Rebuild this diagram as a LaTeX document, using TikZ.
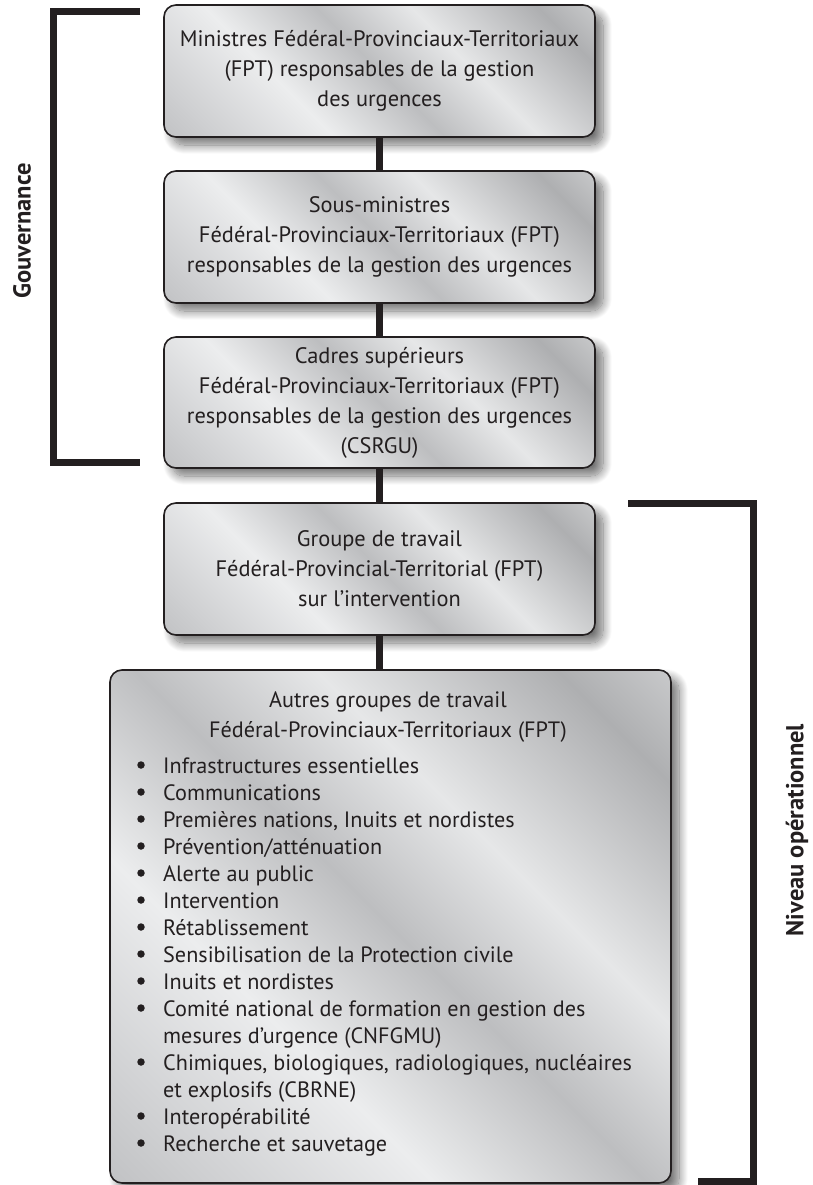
\documentclass[tikz,border=0pt]{standalone}
\usepackage{fontspec}
\setmainfont{PT Sans}
\usetikzlibrary{shadows.blur}
\definecolor{ink}{HTML}{231F20}
\definecolor{mA}{HTML}{A4A5A7}
\definecolor{mB}{HTML}{D0D1D3}
\definecolor{mC}{HTML}{ECEDEE}
\definecolor{mD}{HTML}{BDBEC0}
\definecolor{mE}{HTML}{E6E7E8}
\definecolor{mF}{HTML}{AEAFB1}
\definecolor{mG}{HTML}{D8D9DA}
\pgfdeclarehorizontalshading{metal}{100bp}{color(0bp)=(mA); color(22bp)=(mB); color(36bp)=(mC); color(50bp)=(mD); color(62bp)=(mE); color(78bp)=(mF); color(90bp)=(mG); color(100bp)=(mA)}
\tikzset{
  box/.style={draw=ink, line width=1.6pt, rounded corners=12pt, shading=metal, shading angle=45,
    blur shadow={shadow xshift=8pt, shadow yshift=-8pt, shadow blur radius=9pt, shadow blur steps=14, shadow opacity=55},
    align=center, inner sep=0pt, text=ink, font=\fontsize{22.4}{30}\selectfont},
  link/.style={draw=ink, line width=7pt},
  bracket/.style={draw=ink, line width=7pt},
  side/.style={text=ink, font=\bfseries\fontsize{24.5}{28}\selectfont, rotate=90},
  itm/.style={anchor=base west, inner sep=0pt, text=ink, font=\fontsize{22.2}{27}\selectfont},
  dotmark/.style={circle, fill=ink, inner sep=0pt, minimum size=7.5pt},
}
\begin{document}
\begin{tikzpicture}[x=1pt,y=-1pt]
\useasboundingbox (0,0) rectangle (813,1185);
% brackets
\coordinate (g1) at (140,12);
\coordinate (g2) at (53,12);
\coordinate (g3) at (53,462);
\coordinate (g4) at (140,462);
\draw[bracket] (g1) -- (g2) -- (g3) -- (g4);
\coordinate (n1) at (628,503);
\coordinate (n2) at (753,503);
\coordinate (n3) at (753,1181);
\coordinate (n4) at (698,1181);
\draw[bracket] (n1) -- (n2) -- (n3) -- (n4);
\node[side] (gov) at (22,231) {Gouvernance};
\node[side] (niv) at (797,830) {Niveau opérationnel};
% boxes
\node[box, minimum width=431pt, minimum height=132pt] (b1) at (379.5,71)
  {Ministres Fédéral-Provinciaux-Territoriaux\\(FPT) responsables de la gestion\\des urgences};
\node[box, minimum width=431pt, minimum height=132pt] (b2) at (379.5,237)
  {Sous-ministres\\Fédéral-Provinciaux-Territoriaux (FPT)\\responsables de la gestion des urgences};
\node[box, minimum width=431pt, minimum height=131pt] (b3) at (379.5,402.5)
  {Cadres supérieurs\\Fédéral-Provinciaux-Territoriaux (FPT)\\responsables de la gestion des urgences\\(CSRGU)};
\node[box, minimum width=431pt, minimum height=132pt] (b4) at (379.5,569)
  {Groupe de travail\\Fédéral-Provincial-Territorial (FPT)\\sur l’intervention};
\node[box, minimum width=561pt, minimum height=513pt] (b5) at (390.5,926.5) {};
% connectors
\draw[link] (b1.south) -- (b2.north);
\draw[link] (b2.south) -- (b3.north);
\draw[link] (b3.south) -- (b4.north);
\draw[link] (b4.south) -- (b4.south |- b5.north);
% box 5 content
\node[itm, anchor=base] (h1) at (388,707) {Autres groupes de travail};
\node[itm, anchor=base] (h2) at (388,737) {Fédéral-Provinciaux-Territoriaux (FPT)};
\foreach \t/\b [count=\i from 0] in {
  {Infrastructures essentielles}/1,
  {Communications}/1,
  {Premières nations, Inuits et nordistes}/1,
  {Prévention/atténuation}/1,
  {Alerte au public}/1,
  {Intervention}/1,
  {Rétablissement}/1,
  {Sensibilisation de la Protection civile}/1,
  {Inuits et nordistes}/1,
  {Comité national de formation en gestion des}/1,
  {mesures d’urgence (CNFGMU)}/0,
  {Chimiques, biologiques, radiologiques, nucléaires}/1,
  {et explosifs (CBRNE)}/0,
  {Interopérabilité}/1,
  {Recherche et sauvetage}/1}{
  \node[itm] (L\i) at (163,773+27*\i) {\t};
  \ifnum\b=1 \node[dotmark] (B\i) at (141,765+27*\i) {};\fi
}
\end{tikzpicture}
\end{document}
